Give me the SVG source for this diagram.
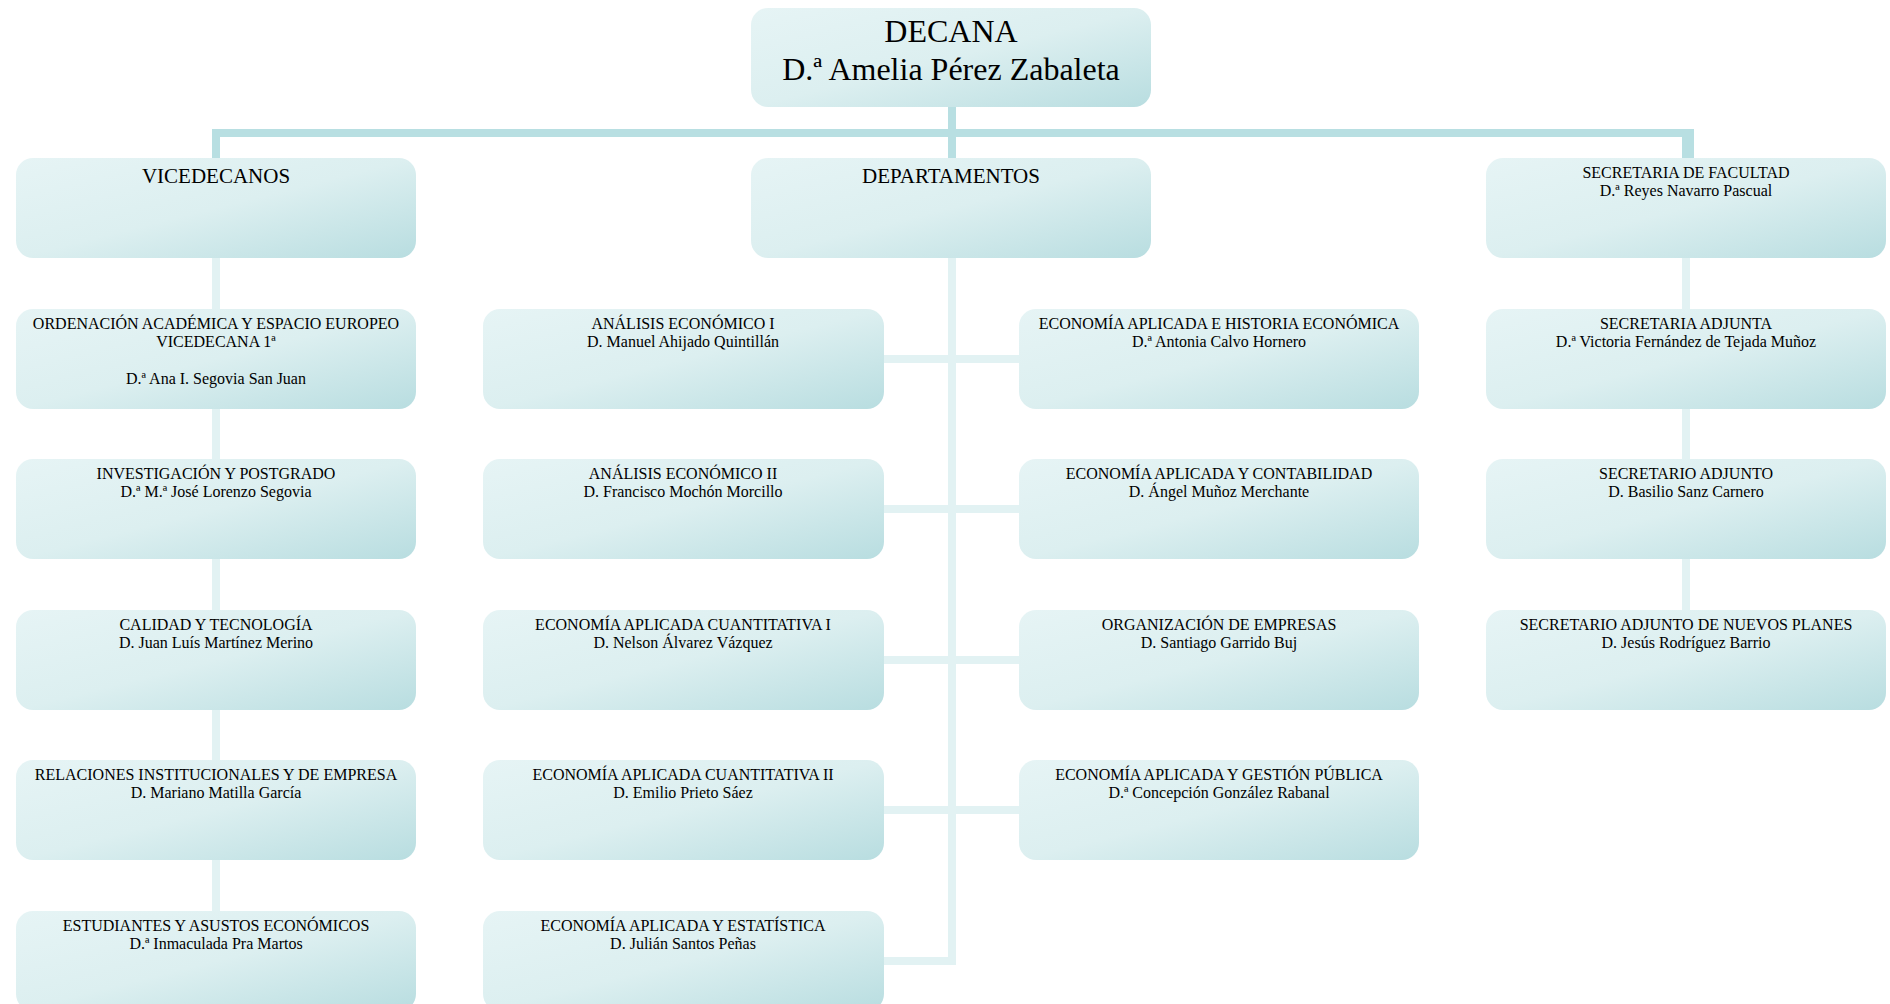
<svg xmlns="http://www.w3.org/2000/svg" width="1890" height="1004" viewBox="0 0 1890 1004">
<defs>
<linearGradient id="bg" x1="0" y1="0" x2="1" y2="1">
<stop offset="0" stop-color="#e6f4f5"/>
<stop offset="0.5" stop-color="#dcefF0"/>
<stop offset="1" stop-color="#b8dde0"/>
</linearGradient>
</defs>
<style>
.box{fill:url(#bg);}
.t{font-family:"Liberation Serif","Times New Roman",serif;font-size:16px;fill:#000;text-anchor:middle;}
.h{font-size:21px;}
.big{font-size:32px;}
.dk{stroke:#b8dfe2;stroke-width:8;fill:none;}
.lt{stroke:#e2f2f3;stroke-width:8;fill:none;}
</style>
<g id="connectors">
<path class="lt" d="M216 258 V911"/>
<path class="lt" d="M1686 258 V610"/>
<path class="lt" d="M952 258 V961 H884"/>
<path class="lt" d="M884 359 H1019 M884 509 H1019 M884 660 H1019 M884 810 H1019"/>
<path class="dk" d="M952 107 V158 M216 158 V133 H1690 V158 M1686 133 V158"/>
</g>
<g id="decana"><rect class="box" x="751" y="8" width="400" height="99" rx="17"/><text class="t big" x="951" y="42">DECANA</text><text class="t big" x="951" y="80">D.ª Amelia Pérez Zabaleta</text></g>
<g id="vicedecanos"><rect class="box" x="16" y="158" width="400" height="100" rx="17"/><text class="t h" x="216" y="183">VICEDECANOS</text></g>
<g id="departamentos"><rect class="box" x="751" y="158" width="400" height="100" rx="17"/><text class="t h" x="951" y="183">DEPARTAMENTOS</text></g>
<g id="secretaria"><rect class="box" x="1486" y="158" width="400" height="100" rx="17"/><text class="t" x="1686" y="178">SECRETARIA DE FACULTAD</text><text class="t" x="1686" y="196">D.ª Reyes Navarro Pascual</text></g>

<g id="ordenacion"><rect class="box" x="16" y="309" width="400" height="100" rx="17"/><text class="t" x="216" y="329">ORDENACIÓN ACADÉMICA Y ESPACIO EUROPEO</text><text class="t" x="216" y="347">VICEDECANA 1ª</text><text class="t" x="216" y="384">D.ª Ana I. Segovia San Juan</text></g>
<g id="investigacion"><rect class="box" x="16" y="459" width="400" height="100" rx="17"/><text class="t" x="216" y="479">INVESTIGACIÓN Y POSTGRADO</text><text class="t" x="216" y="497">D.ª M.ª José Lorenzo Segovia</text></g>
<g id="calidad"><rect class="box" x="16" y="610" width="400" height="100" rx="17"/><text class="t" x="216" y="630">CALIDAD Y TECNOLOGÍA</text><text class="t" x="216" y="648">D. Juan Luís Martínez Merino</text></g>
<g id="relaciones"><rect class="box" x="16" y="760" width="400" height="100" rx="17"/><text class="t" x="216" y="780">RELACIONES INSTITUCIONALES Y DE EMPRESA</text><text class="t" x="216" y="798">D. Mariano Matilla García</text></g>
<g id="estudiantes"><rect class="box" x="16" y="911" width="400" height="100" rx="17"/><text class="t" x="216" y="931">ESTUDIANTES Y ASUSTOS ECONÓMICOS</text><text class="t" x="216" y="949">D.ª Inmaculada Pra Martos</text></g>

<g id="ae1"><rect class="box" x="483" y="309" width="401" height="100" rx="17"/><text class="t" x="683" y="329">ANÁLISIS ECONÓMICO I</text><text class="t" x="683" y="347">D. Manuel Ahijado Quintillán</text></g>
<g id="ae2"><rect class="box" x="483" y="459" width="401" height="100" rx="17"/><text class="t" x="683" y="479">ANÁLISIS ECONÓMICO II</text><text class="t" x="683" y="497">D. Francisco Mochón Morcillo</text></g>
<g id="eac1"><rect class="box" x="483" y="610" width="401" height="100" rx="17"/><text class="t" x="683" y="630">ECONOMÍA APLICADA CUANTITATIVA I</text><text class="t" x="683" y="648">D. Nelson Álvarez Vázquez</text></g>
<g id="eac2"><rect class="box" x="483" y="760" width="401" height="100" rx="17"/><text class="t" x="683" y="780">ECONOMÍA APLICADA CUANTITATIVA II</text><text class="t" x="683" y="798">D. Emilio Prieto Sáez</text></g>
<g id="eae"><rect class="box" x="483" y="911" width="401" height="100" rx="17"/><text class="t" x="683" y="931">ECONOMÍA APLICADA Y ESTATÍSTICA</text><text class="t" x="683" y="949">D. Julián Santos Peñas</text></g>

<g id="eahe"><rect class="box" x="1019" y="309" width="400" height="100" rx="17"/><text class="t" x="1219" y="329">ECONOMÍA APLICADA E HISTORIA ECONÓMICA</text><text class="t" x="1219" y="347">D.ª Antonia Calvo Hornero</text></g>
<g id="eac"><rect class="box" x="1019" y="459" width="400" height="100" rx="17"/><text class="t" x="1219" y="479">ECONOMÍA APLICADA Y CONTABILIDAD</text><text class="t" x="1219" y="497">D. Ángel Muñoz Merchante</text></g>
<g id="oe"><rect class="box" x="1019" y="610" width="400" height="100" rx="17"/><text class="t" x="1219" y="630">ORGANIZACIÓN DE EMPRESAS</text><text class="t" x="1219" y="648">D. Santiago Garrido Buj</text></g>
<g id="eagp"><rect class="box" x="1019" y="760" width="400" height="100" rx="17"/><text class="t" x="1219" y="780">ECONOMÍA APLICADA Y GESTIÓN PÚBLICA</text><text class="t" x="1219" y="798">D.ª Concepción González Rabanal</text></g>

<g id="sadjunta"><rect class="box" x="1486" y="309" width="400" height="100" rx="17"/><text class="t" x="1686" y="329">SECRETARIA ADJUNTA</text><text class="t" x="1686" y="347">D.ª Victoria Fernández de Tejada Muñoz</text></g>
<g id="sadjunto"><rect class="box" x="1486" y="459" width="400" height="100" rx="17"/><text class="t" x="1686" y="479">SECRETARIO ADJUNTO</text><text class="t" x="1686" y="497">D. Basilio Sanz Carnero</text></g>
<g id="snuevos"><rect class="box" x="1486" y="610" width="400" height="100" rx="17"/><text class="t" x="1686" y="630">SECRETARIO ADJUNTO DE NUEVOS PLANES</text><text class="t" x="1686" y="648">D. Jesús Rodríguez Barrio</text></g>
</svg>
